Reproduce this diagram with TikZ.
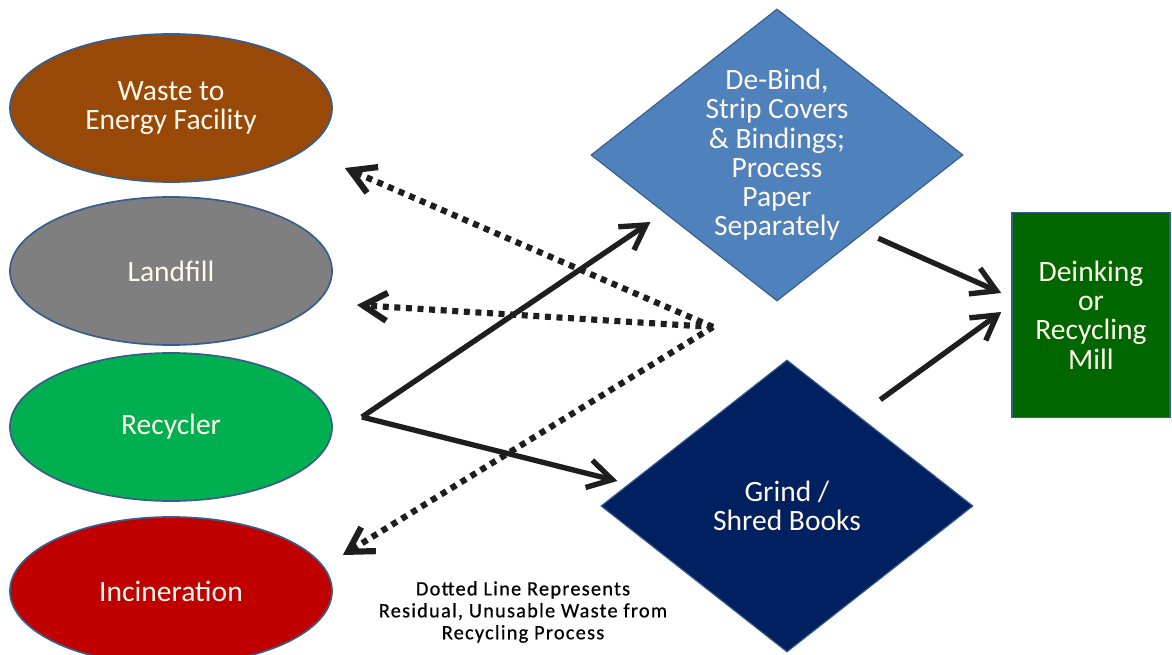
\documentclass[tikz,border=0pt]{standalone}
\usepackage{fontspec}
\setmainfont{Carlito}
\usetikzlibrary{shapes.geometric,arrows.meta,positioning}

\definecolor{wasteBrown}{HTML}{984807}
\definecolor{landGray}{HTML}{7F7F7F}
\definecolor{recGreen}{HTML}{00B050}
\definecolor{burnRed}{HTML}{C00000}
\definecolor{rimBlue}{HTML}{385D8A}
\definecolor{debindBlue}{HTML}{4F81BD}
\definecolor{grindNavy}{HTML}{002060}
\definecolor{millGreen}{HTML}{006600}
\definecolor{arrowInk}{HTML}{1E1E1E}
\definecolor{labelCream}{HTML}{FFF8EC}

\begin{document}
\begin{tikzpicture}[x=0.025cm, y=-0.025cm,
    big/.style={font=\fontsize{21}{20.8}\selectfont, text=labelCream, align=center},
    outlet/.style={ellipse, draw=rimBlue, line width=1.2pt, minimum width=8.05cm, minimum height=3.7cm, inner sep=0pt, big},
    process/.style={diamond, shape aspect=1.27, draw=rimBlue, line width=0.8pt, minimum width=9.3cm, minimum height=7.3cm, inner sep=0pt, big},
    flow/.style={draw=arrowInk, line width=3.8pt, -{Straight Barb[length=6mm, width=7mm]}},
    residue/.style={flow, line width=4.4pt, dash pattern=on 0.15cm off 0.14cm}]
    \useasboundingbox (0,0) rectangle (1172,655);

    % Where the books can end up
    \foreach \nm/\col/\yy/\txt in {waste/wasteBrown/108/{Waste to\\Energy Facility},
        landfill/landGray/271/Landfill, recycler/recGreen/427/Recycler, burn/burnRed/591/Incineration}
        \node[outlet, fill=\col] (\nm) at (171,\yy) {\txt};

    % Processing steps and the mill
    \node[process, fill=debindBlue] (debind) at (777,155) {De-Bind,\\Strip Covers\\\& Bindings;\\Process\\Paper\\Separately};
    \node[process, fill=grindNavy] (grind) at (787,506) {Grind /\\Shred Books};
    \node[rectangle, draw=rimBlue, line width=1pt, fill=millGreen, minimum width=3.95cm, minimum height=5.125cm, big]
        (mill) at (1091,315) {Deinking\\or\\Recycling\\Mill};

    % Residual waste, dotted
    \coordinate (hub) at (713,327);
    \draw[residue] (hub) -- ([shift={(12,60)}]waste.east);
    \draw[residue] (hub) -- ([shift={(24,34)}]landfill.east);
    \draw[residue] (hub) -- ([shift={(10,-36)}]burn.east);

    % Main flow
    \coordinate (apex) at ([shift={(29,-10)}]recycler.east);
    \draw[flow] (apex) -- ([shift={(60,67)}]debind.west);
    \draw[flow] (apex) -- ([shift={(17,-25)}]grind.west);
    \draw[flow] ([shift={(8,10)}]debind.south east) -- ([shift={(-10,-22)}]mill.west);
    \draw[flow] ([shift={(0,-33)}]grind.north east) -- ([shift={(-10,-3)}]mill.west);

    % Legend for the dotted lines
    \node[font=\fontsize{14.5}{15.6}\selectfont\addfontfeature{LetterSpace=6,FakeBold=0.6}, align=center, text=black]
        (legend) at (523,612) {Dotted Line Represents\\Residual, Unusable Waste from\\Recycling Process};
\end{tikzpicture}
\end{document}
